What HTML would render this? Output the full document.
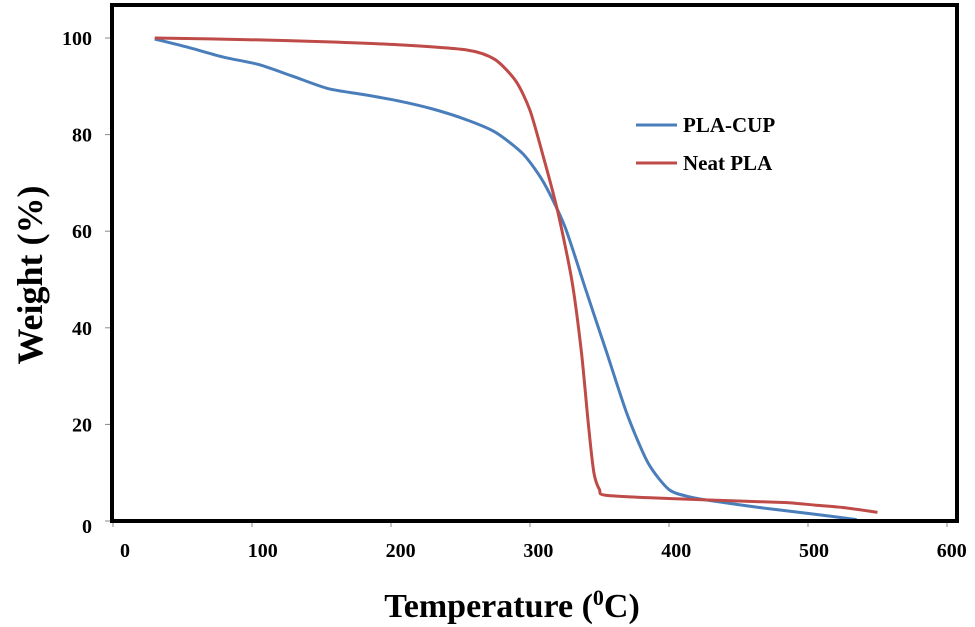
<!DOCTYPE html>
<html><head><meta charset="utf-8"><style>
body{margin:0;background:#fff;}
svg{display:block;font-family:"Liberation Serif",serif;font-weight:bold;}
</style></head><body>
<svg width="975" height="627" viewBox="0 0 975 627">
<rect x="0" y="0" width="975" height="627" fill="#fff"/>
<g id="ticks"></g>
<g id="lines"></g>
<rect x="112" y="5" width="845" height="516" fill="none" stroke="#000" stroke-width="4"/>
<g>
<line x1="636" y1="125" x2="677" y2="125" stroke="#4a7ebb" stroke-width="3"/>
<text x="683" y="132" font-size="21">PLA-CUP</text>
<line x1="636" y1="163" x2="677" y2="163" stroke="#be4b48" stroke-width="3"/>
<text x="683" y="170" font-size="21">Neat PLA</text>
</g>
<text x="512" y="617" font-size="34" text-anchor="middle">Temperature (<tspan font-size="22" dy="-12">0</tspan><tspan dy="12">C)</tspan></text>
<text transform="translate(42,275) rotate(-90)" font-size="36" text-anchor="middle">Weight (%)</text>
</svg>
<script>
const xTicks=[0,100,200,300,400,500,600];
const yTicks=[0,20,40,60,80,100];
const cupT=[30,55,80,105,130,155,180,205,230,255,275,295,310,325,340,355,370,385,400,415,435,465,505,535];
const cupW=[99.8,98,96,94.5,92,89.5,88.3,87,85.3,83,80.5,76,70,61,48,35,22,12,6.5,5,4,2.8,1.4,0.3];
const neatT=[30,105,155,205,255,275,290,300,310,320,330,337,342,346,350,355,405,455,485,505,525,550];
const neatW=[100,99.6,99.2,98.6,97.5,95.5,91,85,75,64,50,35,20,10,6.5,5.3,4.6,4.1,3.8,3.3,2.8,1.8];
const X=v=>113+1.39*v, Y=v=>521-4.83*v;
const NS="http://www.w3.org/2000/svg";
const tg=document.getElementById('ticks'), lg=document.getElementById('lines');
xTicks.forEach(v=>{
 const l=document.createElementNS(NS,'line');
 l.setAttribute('x1',X(v));l.setAttribute('x2',X(v));l.setAttribute('y1',521);l.setAttribute('y2',527);l.setAttribute('stroke','#888');
 
 
 tg.appendChild(l);
 const t=document.createElementNS(NS,'text');
 t.setAttribute('x',X(v)+12-0.012*v);t.setAttribute('y',557);t.setAttribute('font-size','20');t.setAttribute('text-anchor','middle');t.textContent=v;
 
 
 tg.appendChild(t);
});
yTicks.forEach(v=>{
 const l=document.createElementNS(NS,'line');
 l.setAttribute('x1',105);l.setAttribute('x2',112);l.setAttribute('y1',Y(v));l.setAttribute('y2',Y(v));l.setAttribute('stroke','#888');
 
 
 tg.appendChild(l);
 const t=document.createElementNS(NS,'text');
 t.setAttribute('x',92);t.setAttribute('y',Y(v)+(v===0?12:7));t.setAttribute('font-size','20');t.setAttribute('text-anchor','end');t.textContent=v;
 
 
 tg.appendChild(t);
});
function path(T,W,color,name){
 const P=T.map((t,i)=>[X(t),Y(W[i])]);
 let d='M'+P[0][0].toFixed(1)+','+P[0][1].toFixed(1);
 for(let i=0;i<P.length-1;i++){
  const p0=P[i-1]||P[i],p1=P[i],p2=P[i+1],p3=P[i+2]||p2,k=1/8;
  const c1=[p1[0]+(p2[0]-p0[0])*k,p1[1]+(p2[1]-p0[1])*k];
  const c2=[p2[0]-(p3[0]-p1[0])*k,p2[1]-(p3[1]-p1[1])*k];
  d+='C'+c1.map(n=>n.toFixed(1)).join(',')+' '+c2.map(n=>n.toFixed(1)).join(',')+' '+p2.map(n=>n.toFixed(1)).join(',');
 }
 const p=document.createElementNS(NS,'path');
 p.setAttribute('d',d);
 p.setAttribute('fill','none');p.setAttribute('stroke',color);p.setAttribute('stroke-width','3');p.setAttribute('stroke-linejoin','round');
 
 
 lg.appendChild(p);
}
path(cupT,cupW,'#4a7ebb','pla-cup-line');
path(neatT,neatW,'#be4b48','neat-pla-line');
</script>
</body></html>
